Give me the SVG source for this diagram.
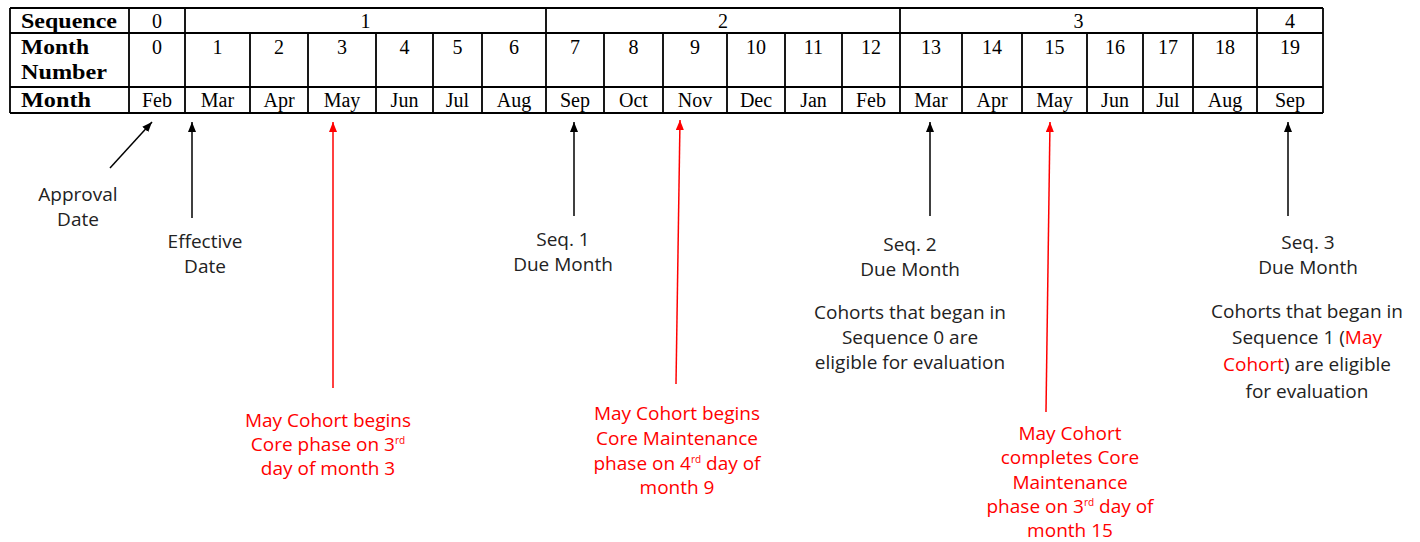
<svg xmlns="http://www.w3.org/2000/svg" width="1420" height="542" viewBox="0 0 1420 542">
<style>
.grid{stroke:#000;stroke-width:1.8;fill:none}
.t{font-family:"Liberation Serif","Times New Roman",serif;font-size:20px;fill:#000;text-anchor:middle}
.b{font-family:"Liberation Serif","Times New Roman",serif;font-size:20px;font-weight:bold;fill:#000}
.a{font-family:"Open Sans","Noto Sans",sans-serif;font-size:19px;fill:#222;text-anchor:middle}
.r{fill:#ff0000}
.sup{font-size:10px}
.lk{stroke:#000;stroke-width:1.5;fill:none}
.lr{stroke:#ff0000;stroke-width:1.5;fill:none}
</style>
<defs>
<marker id="ak" viewBox="0 0 10 8" refX="10" refY="4" markerWidth="10" markerHeight="8" markerUnits="userSpaceOnUse" orient="auto"><path d="M0,0L10,4L0,8z" fill="#000"/></marker>
<marker id="ar" viewBox="0 0 10 8" refX="10" refY="4" markerWidth="10" markerHeight="8" markerUnits="userSpaceOnUse" orient="auto"><path d="M0,0L10,4L0,8z" fill="#ff0000"/></marker>
</defs>
<rect width="1420" height="542" fill="#fff"/>
<g id="table">
<path class="grid" d="M10,8H1323M10,33H1323M10,87H1323M10,113H1323M10,8V113M129,8V113M185,8V113M546,8V113M900,8V113M1257,8V113M1323,8V113M250,33V113M308,33V113M376,33V113M433,33V113M482,33V113M604,33V113M663,33V113M727,33V113M785,33V113M842,33V113M962,33V113M1022,33V113M1087,33V113M1143,33V113M1193,33V113"/>
<text class="b" x="21" y="28" textLength="96" lengthAdjust="spacingAndGlyphs">Sequence</text>
<text class="b" x="21" y="54" textLength="68" lengthAdjust="spacingAndGlyphs">Month</text>
<text class="b" x="21" y="79" textLength="86" lengthAdjust="spacingAndGlyphs">Number</text>
<text class="b" x="21" y="107" textLength="70" lengthAdjust="spacingAndGlyphs">Month</text>
<text class="t" x="157" y="28">0</text>
<text class="t" x="365.5" y="28">1</text>
<text class="t" x="723" y="28">2</text>
<text class="t" x="1078.5" y="28">3</text>
<text class="t" x="1290" y="28">4</text>
<g>
<text class="t" x="157" y="54">0</text><text class="t" x="217.5" y="54">1</text><text class="t" x="279" y="54">2</text><text class="t" x="342" y="54">3</text><text class="t" x="404.5" y="54">4</text><text class="t" x="457.5" y="54">5</text><text class="t" x="514" y="54">6</text><text class="t" x="575" y="54">7</text><text class="t" x="633.5" y="54">8</text><text class="t" x="695" y="54">9</text><text class="t" x="756" y="54">10</text><text class="t" x="813.5" y="54">11</text><text class="t" x="871" y="54">12</text><text class="t" x="931" y="54">13</text><text class="t" x="992" y="54">14</text><text class="t" x="1054.5" y="54">15</text><text class="t" x="1115" y="54">16</text><text class="t" x="1168" y="54">17</text><text class="t" x="1225" y="54">18</text><text class="t" x="1290" y="54">19</text>
</g>
<g>
<text class="t" x="157" y="107">Feb</text><text class="t" x="217.5" y="107">Mar</text><text class="t" x="279" y="107">Apr</text><text class="t" x="342" y="107">May</text><text class="t" x="404.5" y="107">Jun</text><text class="t" x="457.5" y="107">Jul</text><text class="t" x="514" y="107">Aug</text><text class="t" x="575" y="107">Sep</text><text class="t" x="633.5" y="107">Oct</text><text class="t" x="695" y="107">Nov</text><text class="t" x="756" y="107">Dec</text><text class="t" x="813.5" y="107">Jan</text><text class="t" x="871" y="107">Feb</text><text class="t" x="931" y="107">Mar</text><text class="t" x="992" y="107">Apr</text><text class="t" x="1054.5" y="107">May</text><text class="t" x="1115" y="107">Jun</text><text class="t" x="1168" y="107">Jul</text><text class="t" x="1225" y="107">Aug</text><text class="t" x="1290" y="107">Sep</text>
</g>
</g>
<g id="connectors">
<line class="lk" x1="110" y1="168" x2="152" y2="122" marker-end="url(#ak)"/>
<line class="lk" x1="192" y1="218" x2="192" y2="122" marker-end="url(#ak)"/>
<line class="lr" x1="333" y1="388" x2="333" y2="122" marker-end="url(#ar)"/>
<line class="lk" x1="574" y1="216" x2="574" y2="122" marker-end="url(#ak)"/>
<line class="lr" x1="676" y1="384" x2="680" y2="120" marker-end="url(#ar)"/>
<line class="lk" x1="930" y1="216" x2="930" y2="122" marker-end="url(#ak)"/>
<line class="lr" x1="1046" y1="412" x2="1050" y2="122" marker-end="url(#ar)"/>
<line class="lk" x1="1288" y1="216" x2="1288" y2="122" marker-end="url(#ak)"/>
</g>
<g id="approval"><text class="a" x="78" y="201">Approval</text><text class="a" x="78" y="226">Date</text></g>
<g id="effective"><text class="a" x="205" y="248">Effective</text><text class="a" x="205" y="273">Date</text></g>
<g id="seq1"><text class="a" x="563" y="246">Seq. 1</text><text class="a" x="563" y="271">Due Month</text></g>
<g id="seq2"><text class="a" x="910" y="251">Seq. 2</text><text class="a" x="910" y="276">Due Month</text>
<text class="a" x="910" y="319">Cohorts that began in</text><text class="a" x="910" y="344">Sequence 0 are</text><text class="a" x="910" y="369">eligible for evaluation</text></g>
<g id="seq3"><text class="a" x="1308" y="249">Seq. 3</text><text class="a" x="1308" y="274">Due Month</text>
<text class="a" x="1307" y="318">Cohorts that began in</text><text class="a" x="1307" y="344">Sequence 1 (<tspan class="r">May</tspan></text><text class="a" x="1307" y="371"><tspan class="r">Cohort</tspan>) are eligible</text><text class="a" x="1307" y="398">for evaluation</text></g>
<g id="may-core"><text class="a r" x="328" y="427">May Cohort begins</text><text class="a r" x="328" y="451">Core phase on 3<tspan class="sup" dy="-7">rd</tspan></text><text class="a r" x="328" y="475">day of month 3</text></g>
<g id="may-maint"><text class="a r" x="677" y="420">May Cohort begins</text><text class="a r" x="677" y="445">Core Maintenance</text><text class="a r" x="677" y="470">phase on 4<tspan class="sup" dy="-7">rd</tspan><tspan dy="7"> day of</tspan></text><text class="a r" x="677" y="494">month 9</text></g>
<g id="may-complete"><text class="a r" x="1070" y="440">May Cohort</text><text class="a r" x="1070" y="464">completes Core</text><text class="a r" x="1070" y="489">Maintenance</text><text class="a r" x="1070" y="513">phase on 3<tspan class="sup" dy="-7">rd</tspan><tspan dy="7"> day of</tspan></text><text class="a r" x="1070" y="537">month 15</text></g>
</svg>
